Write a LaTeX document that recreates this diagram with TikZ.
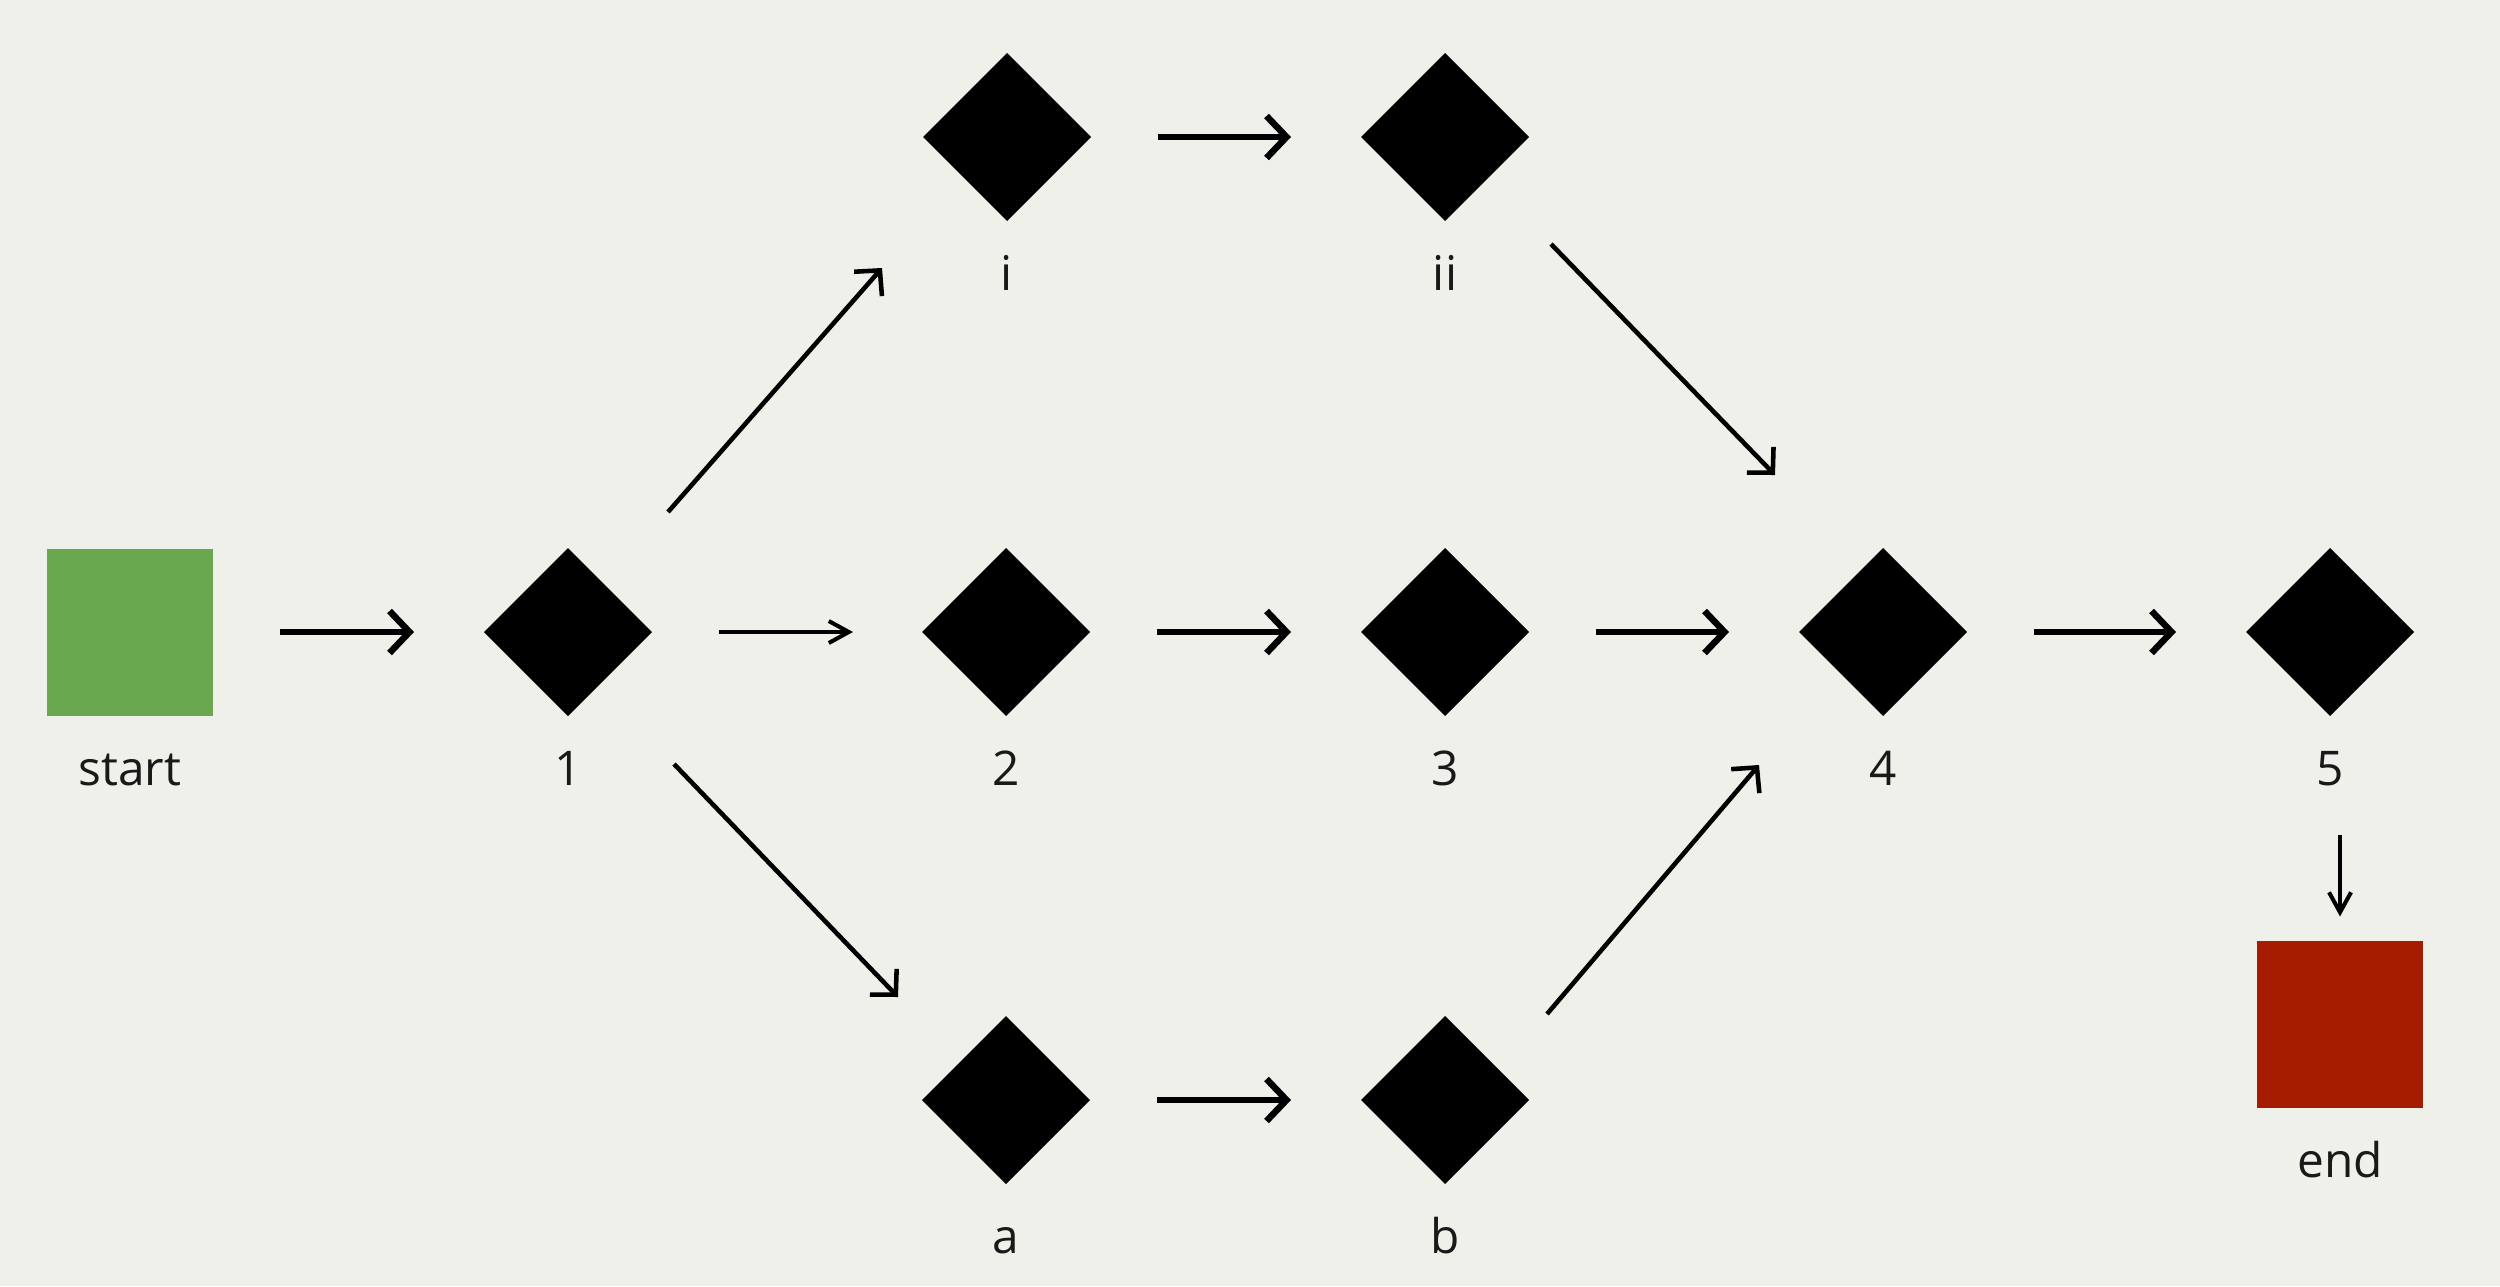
\documentclass[tikz,border=0pt]{standalone}
\usepackage{fontspec}
\setmainfont{Open Sans}
\usetikzlibrary{arrows.meta,shapes.geometric}

\definecolor{bgcol}{HTML}{F0F0EB}
\definecolor{startcol}{HTML}{6AA84F}
\definecolor{endcol}{HTML}{A61C00}

\begin{document}
\begin{tikzpicture}[
    font=\fontsize{13.6pt}{16pt}\selectfont,
    stepbox/.style={diamond, fill=black, minimum width=1.68cm, minimum height=1.68cm, inner sep=0pt, outer sep=0pt},
    term/.style={rectangle, minimum width=1.66cm, minimum height=1.67cm, inner sep=0pt, outer sep=0pt},
    lbl/.style={anchor=base, inner sep=0pt, text=black!90},
    flow/.style={-{Straight Barb[length=0.2cm, width=0.42cm]}, line width=1.85pt, shorten <=0.67cm, shorten >=0.7cm},
    thinflow/.style={-{Straight Barb[length=0.2cm, width=0.22cm]}, line width=1.15pt},
    branch/.style={-{Straight Barb[length=0.18cm, width=0.37cm]}, line width=1.3pt}]
  \fill[bgcol] (0,0) rectangle (25,12.86);

  % main row
  \node[term, fill=startcol] (start) at (1.30,6.54) {};
  \node[stepbox] (n1) at (5.68,6.54) {};
  \node[stepbox] (n2) at (10.06,6.54) {};
  \node[stepbox] (n3) at (14.45,6.54) {};
  \node[stepbox] (n4) at (18.83,6.54) {};
  \node[stepbox] (n5) at (23.30,6.54) {};
  % upper and lower branches
  \node[stepbox] (ni) at (10.07,11.49) {};
  \node[stepbox] (nii) at (14.45,11.49) {};
  \node[stepbox] (na) at (10.06,1.86) {};
  \node[stepbox] (nb) at (14.45,1.86) {};
  \node[term, fill=endcol] (end) at (23.40,2.62) {};

  \foreach \n/\t in {start/start, n1/1, n2/2, n3/3, n4/4, n5/5, ni/i, nii/ii, na/a, nb/b, end/end}
    \node[lbl] (l\n) at ([yshift=-1.53cm]\n.center) {\t};

  \draw[flow] (start) -- (n1);
  \draw[thinflow, shorten <=0.67cm, shorten >=0.69cm] (n1) -- (n2);
  \draw[flow] (n2) -- (n3);
  \draw[flow] (n3) -- (n4);
  \draw[flow] (n4) -- (n5);
  \draw[flow] (ni) -- (nii);
  \draw[flow] (na) -- (nb);
  % diagonal branches
  \draw[branch] ([shift={(1.00,1.20)}]n1.center) -- ([shift={(-1.25,-1.31)}]ni.center);
  \draw[branch] ([shift={(1.06,-1.07)}]nii.center) -- ([shift={(-1.08,1.57)}]n4.center);
  \draw[branch] ([shift={(1.06,-1.32)}]n1.center) -- ([shift={(-1.08,1.03)}]na.center);
  \draw[branch] ([shift={(1.02,0.86)}]nb.center) -- ([shift={(-1.24,-1.33)}]n4.center);
  \draw[thinflow, shorten <=0.49cm, shorten >=0.24cm] (ln5.south -| end) -- (end);
\end{tikzpicture}
\end{document}
